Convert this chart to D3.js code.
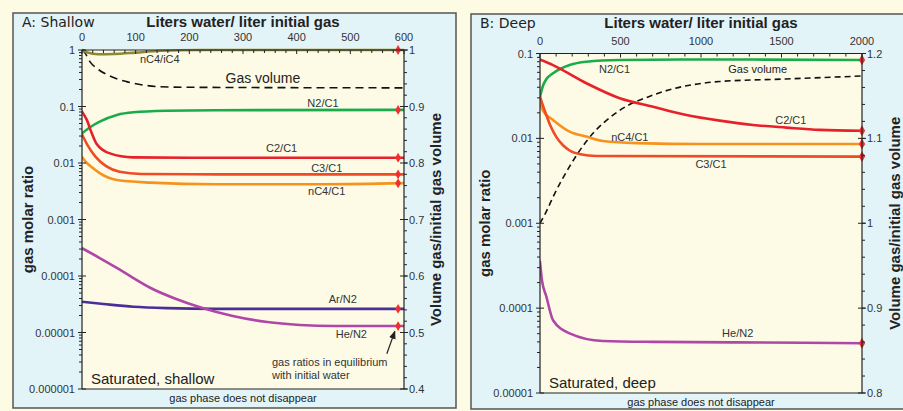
<!DOCTYPE html>
<html>
<head>
<meta charset="utf-8">
<script src="https://cdn.jsdelivr.net/npm/d3@7"></script>
<style>
  body { margin: 0; background: #fdfbe3; }
  svg { display: block; font-family: "Liberation Sans", Arial, sans-serif; }
</style>
</head>
<body>
<svg id="chart" width="903" height="411"></svg>
<script>
// ---- data: [liters water / liter initial gas, value] ----

// A: shallow
var shallowXTicks = [0, 100, 200, 300, 400, 500, 600];
var shallowRatioTicks = [1, 0.1, 0.01, 0.001, 0.0001, 0.00001, 0.000001];
var shallowRatioLabels = ["1", "0.1", "0.01", "0.001", "0.0001", "0.00001", "0.000001"];
var shallowVolTicks = [1, 0.9, 0.8, 0.7, 0.6, 0.5, 0.4];
var shallowVolLabels = ["1", "0.9", "0.8", "0.7", "0.6", "0.5", "0.4"];

var shallowNC4iC4 = [[0, 1], [10, 0.9], [30, 0.84], [60, 0.85], [100, 0.9], [140, 0.96], [180, 0.99], [220, 1], [600, 1]];
var shallowGasVolume = [[0, 1], [6, 0.994], [15, 0.979], [27, 0.968], [52, 0.954], [83, 0.944], [114, 0.938], [145, 0.935], [200, 0.934], [600, 0.933]];
var shallowN2C1 = [[0, 0.0335], [15, 0.043], [33, 0.054], [65, 0.071], [96, 0.079], [158, 0.084], [250, 0.086], [600, 0.087]];
var shallowC2C1 = [[0, 0.081], [9, 0.058], [18, 0.034], [27, 0.022], [52, 0.0148], [95, 0.0126], [200, 0.0124], [600, 0.0124]];
var shallowC3C1 = [[0, 0.032], [10, 0.021], [25, 0.013], [45, 0.0088], [70, 0.007], [110, 0.0064], [250, 0.0063], [600, 0.0063]];
var shallowNC4C1 = [[0, 0.0128], [10, 0.0098], [20, 0.0082], [33, 0.0066], [65, 0.005], [127, 0.0045], [250, 0.0042], [450, 0.0042], [600, 0.0044]];
var shallowArN2 = [[0, 3.5e-5], [40, 3.2e-5], [96, 2.86e-5], [158, 2.7e-5], [250, 2.62e-5], [600, 2.62e-5]];
var shallowHeN2 = [[0, 3.1e-4], [33, 2.08e-4], [65, 1.39e-4], [95, 9.3e-5], [127, 6.2e-5], [173, 4.0e-5], [220, 2.8e-5], [281, 1.96e-5], [345, 1.53e-5], [406, 1.36e-5], [468, 1.3e-5], [600, 1.3e-5]];

// B: deep
var deepXTicks = [0, 500, 1000, 1500, 2000];
var deepRatioTicks = [0.1, 0.01, 0.001, 0.0001, 0.00001];
var deepRatioLabels = ["0.1", "0.01", "0.001", "0.0001", "0.00001"];
var deepVolTicks = [1.2, 1.1, 1, 0.9, 0.8];
var deepVolLabels = ["1.2", "1.1", "1", "0.9", "0.8"];

var deepGasVolume = [[0, 1], [39, 1.0137], [81, 1.031], [184, 1.067], [286, 1.096], [495, 1.133], [702, 1.151], [1116, 1.167], [1528, 1.17], [2000, 1.1735]];
var deepN2C1 = [[0, 0.031], [19, 0.042], [40, 0.05], [81, 0.0585], [184, 0.0733], [288, 0.08], [495, 0.0838], [1000, 0.085], [2000, 0.084]];
var deepC2C1 = [[0, 0.085], [81, 0.073], [288, 0.0446], [495, 0.0297], [702, 0.0236], [909, 0.0189], [1116, 0.0162], [1323, 0.0144], [1530, 0.0134], [1737, 0.0126], [2000, 0.0123]];
var deepNC4C1 = [[0, 0.0254], [20, 0.021], [81, 0.0165], [184, 0.012], [286, 0.0105], [391, 0.0093], [600, 0.0088], [1000, 0.0086], [2000, 0.0086]];
var deepC3C1 = [[0, 0.031], [30, 0.021], [62, 0.0145], [100, 0.0105], [143, 0.0083], [184, 0.0072], [250, 0.0065], [350, 0.0062], [2000, 0.0061]];
var deepHeN2 = [[0, 3.53e-4], [12, 2.14e-4], [39, 1.38e-4], [81, 7.2e-5], [184, 5.05e-5], [391, 4.1e-5], [700, 4.0e-5], [1200, 3.95e-5], [2000, 3.86e-5]];

// ---- colours ----
var colors = {
  nc4ic4: "#8c8a2e",
  n2c1: "#1aab4b",
  c2c1: "#e8202a",
  c3c1: "#ef4b25",
  nc4c1: "#f7921e",
  hen2: "#b046a8",
  arn2: "#4b2f99",
  marker: "#f03030"
};

const svg = d3.select("#chart");

svg.append("defs").append("marker")
  .attr("id", "arrow")
  .attr("viewBox", "0 0 10 10")
  .attr("refX", 9).attr("refY", 5)
  .attr("markerWidth", 7).attr("markerHeight", 7)
  .attr("orient", "auto")
  .append("path").attr("d", "M0,1L10,5L0,9z").attr("fill", "#222");

function logMinors(lo, hi) {
  var out = [];
  for (var e = Math.round(Math.log10(lo)); e < Math.round(Math.log10(hi)); e++) {
    for (var k = 2; k <= 9; k++) out.push(k * Math.pow(10, e));
  }
  return out;
}

/**
 * draw one panel
 */
function drawPanel(p) {
  const g = svg.append("g");

  // frame + backgrounds
  g.append("rect")
    .attr("x", p.box.x).attr("y", p.box.y)
    .attr("width", p.box.w).attr("height", p.box.h)
    .style("fill", "#e3f4f9").style("stroke", "#555").style("stroke-width", 1.5);

  g.append("rect")
    .attr("x", p.plot.l).attr("y", p.plot.t)
    .attr("width", p.plot.r - p.plot.l).attr("height", p.plot.b - p.plot.t)
    .style("fill", "#fdfbe6");

  // scales
  const x = d3.scaleLinear().domain(p.xDomain).range([p.plot.l, p.plot.r]);
  const yL = d3.scaleLog().domain(p.ratioDomain).range([p.plot.b, p.plot.t]);
  const yR = d3.scaleLinear().domain(p.volDomain).range([p.plot.b, p.plot.t]);

  const clipId = "clip" + p.id;
  g.append("clipPath").attr("id", clipId).append("rect")
    .attr("x", p.plot.l).attr("y", p.plot.t - 2)
    .attr("width", p.plot.r - p.plot.l).attr("height", p.plot.b - p.plot.t + 4);

  const lines = g.append("g").attr("clip-path", "url(#" + clipId + ")");

  // gas volume (dashed, right axis)
  const volLine = d3.line()
    .x(function(d) { return x(d[0]); })
    .y(function(d) { return yR(d[1]); })
    .curve(d3.curveMonotoneX);
  lines.append("path")
    .attr("d", volLine(p.volume))
    .style("fill", "none").style("stroke", "#111")
    .style("stroke-width", 1.6).style("stroke-dasharray", p.dash);

  // ratios (left axis)
  const ratioLine = d3.line()
    .x(function(d) { return x(d[0]); })
    .y(function(d) { return yL(d[1]); })
    .curve(d3.curveMonotoneX);
  p.series.forEach(function(s) {
    lines.append("path")
      .attr("d", ratioLine(s.data))
      .style("fill", "none").style("stroke", s.color)
      .style("stroke-width", 2.6).style("stroke-linecap", "round");
  });

  // equilibrium markers
  p.series.forEach(function(s) {
    var yv = d3.scaleLinear().domain(s.data.map(function(d) { return d[0]; })).range(s.data.map(function(d) { return d[1]; }));
    g.append("path")
      .attr("d", d3.symbol().type(d3.symbolDiamond).size(p.markerSize)())
      .attr("transform", "translate(" + x(p.markerX) + "," + yL(yv(p.markerX)) + ")")
      .style("fill", colors.marker);
  });

  // series labels
  p.series.forEach(function(s) {
    g.append("text")
      .attr("x", x(s.lx)).attr("y", yL(s.ly))
      .attr("text-anchor", "middle")
      .style("font-size", "11px").style("fill", "#333")
      .text(s.label);
  });
  g.append("text")
    .attr("x", x(p.volLabel.x)).attr("y", yR(p.volLabel.y))
    .attr("text-anchor", "middle")
    .style("font-size", p.volLabel.size).style("fill", "#222")
    .text("Gas volume");

  // axis lines
  const axes = g.append("g").style("stroke", "#222").style("stroke-width", 1.2);
  axes.append("line").attr("x1", p.plot.l).attr("x2", p.plot.l).attr("y1", p.plot.t).attr("y2", p.plot.b);
  axes.append("line").attr("x1", p.plot.r).attr("x2", p.plot.r).attr("y1", p.plot.t).attr("y2", p.plot.b);
  axes.append("line").attr("x1", p.plot.l).attr("x2", p.plot.r).attr("y1", p.plot.t).attr("y2", p.plot.t);
  axes.append("line").attr("x1", p.plot.l).attr("x2", p.plot.r).attr("y1", p.plot.b).attr("y2", p.plot.b);

  const ticks = g.append("g").style("stroke", "#222").style("stroke-width", 1);

  // top axis
  d3.range(p.xDomain[0], p.xDomain[1] + 0.001, p.xMinor).forEach(function(v) {
    var major = p.xTicks.indexOf(v) >= 0;
    ticks.append("line").attr("x1", x(v)).attr("x2", x(v))
      .attr("y1", p.plot.t).attr("y2", p.plot.t + (major ? 4 : 3));
  });
  p.xTicks.forEach(function(v) {
    g.append("text").attr("x", x(v)).attr("y", p.plot.t - 9)
      .attr("text-anchor", "middle").style("font-size", "11px").style("fill", "#333")
      .text(v);
  });

  // left axis
  logMinors(p.ratioDomain[0], p.ratioDomain[1]).forEach(function(v) {
    ticks.append("line").attr("x1", p.plot.l - 3).attr("x2", p.plot.l)
      .attr("y1", yL(v)).attr("y2", yL(v));
  });
  p.ratioTicks.forEach(function(v, i) {
    ticks.append("line").attr("x1", p.plot.l - 4).attr("x2", p.plot.l + 4)
      .attr("y1", yL(v)).attr("y2", yL(v));
    g.append("text").attr("x", p.plot.l - 7).attr("y", yL(v) + 4)
      .attr("text-anchor", "end").style("font-size", "11px").style("fill", "#333")
      .text(p.ratioLabels[i]);
  });

  // right axis
  d3.range(p.volDomain[0], p.volDomain[1] + 0.001, 0.02).forEach(function(v) {
    ticks.append("line").attr("x1", p.plot.r).attr("x2", p.plot.r + 3)
      .attr("y1", yR(v)).attr("y2", yR(v));
  });
  p.volTicks.forEach(function(v, i) {
    ticks.append("line").attr("x1", p.plot.r - 4).attr("x2", p.plot.r + 4)
      .attr("y1", yR(v)).attr("y2", yR(v));
    g.append("text").attr("x", p.plot.r + 5).attr("y", yR(v) + 4)
      .style("font-size", "11px").style("fill", "#333")
      .text(p.volLabels[i]);
  });

  // titles
  const midY = (p.plot.t + p.plot.b) / 2;
  g.append("text").attr("x", (p.plot.l + p.plot.r) / 2).attr("y", p.box.y + 14)
    .attr("text-anchor", "middle").style("font-size", "15px").style("font-weight", "bold").style("fill", "#222")
    .text("Liters water/ liter initial gas");
  g.append("text")
    .attr("transform", "translate(" + p.leftTitleX + "," + midY + ") rotate(-90)")
    .attr("text-anchor", "middle").style("font-size", "15px").style("font-weight", "bold").style("fill", "#222")
    .text("gas molar ratio");
  g.append("text")
    .attr("transform", "translate(" + p.rightTitleX + "," + midY + ") rotate(-90)")
    .attr("text-anchor", "middle").style("font-size", "15px").style("font-weight", "bold").style("fill", "#222")
    .text("Volume gas/initial gas volume");

  g.append("text").attr("x", p.box.x + 9).attr("y", p.box.y + 14)
    .style("font-family", "'DejaVu Sans', sans-serif").style("font-size", "14px").style("fill", "#222")
    .text(p.title);
  g.append("text").attr("x", p.plot.l + 9).attr("y", p.plot.b - 5)
    .style("font-size", "15px").style("fill", "#222")
    .text(p.caption);
  g.append("text").attr("x", (p.plot.l + p.plot.r) / 2).attr("y", p.plot.b + 13)
    .attr("text-anchor", "middle").style("font-size", "11px").style("fill", "#222")
    .text("gas phase does not disappear");

  return { g: g, x: x, yL: yL, yR: yR };
}

const shallow = drawPanel({
  id: "A", title: "A: Shallow", caption: "Saturated, shallow",
  box: { x: 13, y: 13, w: 443, h: 395 },
  plot: { l: 82, r: 404, t: 50, b: 389 },
  xDomain: [0, 600], xTicks: shallowXTicks, xMinor: 20,
  ratioDomain: [1e-6, 1], ratioTicks: shallowRatioTicks, ratioLabels: shallowRatioLabels,
  volDomain: [0.4, 1], volTicks: shallowVolTicks, volLabels: shallowVolLabels,
  volume: shallowGasVolume, dash: "8,5",
  volLabel: { x: 337, y: 0.942, size: "14px" },
  markerX: 589, markerSize: 28,
  leftTitleX: 33, rightTitleX: 441,
  series: [
    { data: shallowNC4iC4, color: colors.nc4ic4, label: "nC4/iC4", lx: 145, ly: 0.59 },
    { data: shallowN2C1, color: colors.n2c1, label: "N2/C1", lx: 449, ly: 0.098 },
    { data: shallowC2C1, color: colors.c2c1, label: "C2/C1", lx: 372, ly: 0.0157 },
    { data: shallowC3C1, color: colors.c3c1, label: "C3/C1", lx: 456, ly: 0.007 },
    { data: shallowNC4C1, color: colors.nc4c1, label: "nC4/C1", lx: 456, ly: 0.00272 },
    { data: shallowArN2, color: colors.arn2, label: "Ar/N2", lx: 486, ly: 3.33e-5 },
    { data: shallowHeN2, color: colors.hen2, label: "He/N2", lx: 502, ly: 8.0e-6 }
  ]
});

// annotation: equilibrium point
shallow.g.append("line")
  .attr("x1", shallow.x(568)).attr("y1", shallow.yL(4.2e-6))
  .attr("x2", shallow.x(583)).attr("y2", shallow.yL(1.05e-5))
  .style("stroke", "#222").style("stroke-width", 1.2)
  .attr("marker-end", "url(#arrow)");
shallow.g.append("text")
  .attr("x", shallow.x(354)).attr("y", shallow.yL(2.6e-6))
  .style("font-size", "11px").style("fill", "#333")
  .text("gas ratios in equilibrium");
shallow.g.append("text")
  .attr("x", shallow.x(354)).attr("y", shallow.yL(1.5e-6))
  .style("font-size", "11px").style("fill", "#333")
  .text("with initial water");

drawPanel({
  id: "B", title: "B: Deep", caption: "Saturated, deep",
  box: { x: 471, y: 14, w: 440, h: 395 },
  plot: { l: 540, r: 862, t: 53.5, b: 393 },
  xDomain: [0, 2000], xTicks: deepXTicks, xMinor: 100,
  ratioDomain: [1e-5, 0.1], ratioTicks: deepRatioTicks, ratioLabels: deepRatioLabels,
  volDomain: [0.8, 1.2], volTicks: deepVolTicks, volLabels: deepVolLabels,
  volume: deepGasVolume, dash: "6,4",
  volLabel: { x: 1352, y: 1.1765, size: "11px" },
  markerX: 2000, markerSize: 34,
  leftTitleX: 490, rightTitleX: 900,
  series: [
    { data: deepN2C1, color: colors.n2c1, label: "N2/C1", lx: 463, ly: 0.0585 },
    { data: deepC2C1, color: colors.c2c1, label: "C2/C1", lx: 1558, ly: 0.0148 },
    { data: deepNC4C1, color: colors.nc4c1, label: "nC4/C1", lx: 558, ly: 0.0093 },
    { data: deepC3C1, color: colors.c3c1, label: "C3/C1", lx: 1062, ly: 0.00448 },
    { data: deepHeN2, color: colors.hen2, label: "He/N2", lx: 1228, ly: 4.6e-5 }
  ]
});
</script>
</body>
</html>
